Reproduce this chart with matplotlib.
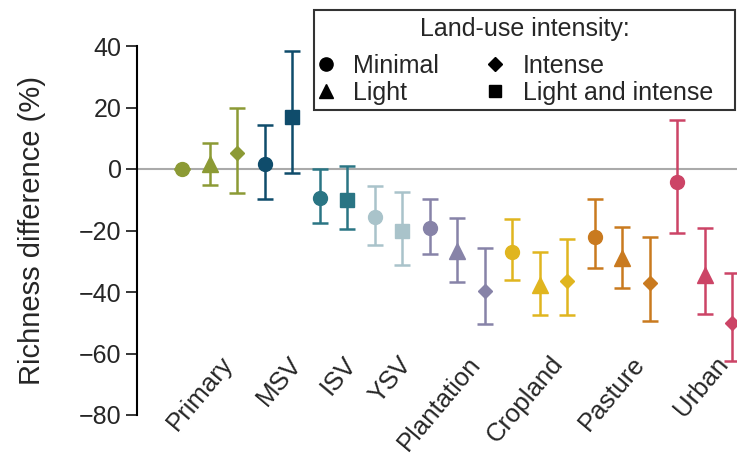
import numpy as np
import matplotlib
matplotlib.use('Agg')
import matplotlib.pyplot as plt
from matplotlib.lines import Line2D
from matplotlib.patches import Rectangle

plt.rcParams['font.family'] = ['Liberation Sans', 'DejaVu Sans']
plt.rcParams['text.color'] = '#262626'
plt.rcParams['axes.labelcolor'] = '#262626'
plt.rcParams['ytick.color'] = '#262626'

categories = ['Primary', 'MSV', 'ISV', 'YSV', 'Plantation', 'Cropland', 'Pasture', 'Urban']
colors = ['#8c9a35', '#0f4c6b', '#2a7584', '#a9c3ca', '#8783a8', '#e0b51f', '#c97a1f', '#cc4466']

land_use = ['Primary', 'Primary', 'Primary', 'MSV', 'MSV', 'ISV', 'ISV', 'YSV', 'YSV',
            'Plantation', 'Plantation', 'Plantation', 'Cropland', 'Cropland', 'Cropland',
            'Pasture', 'Pasture', 'Pasture', 'Urban', 'Urban', 'Urban']
intensity = ['Minimal', 'Light', 'Intense', 'Minimal', 'Light and intense',
             'Minimal', 'Light and intense', 'Minimal', 'Light and intense',
             'Minimal', 'Light', 'Intense', 'Minimal', 'Light', 'Intense',
             'Minimal', 'Light', 'Intense', 'Minimal', 'Light', 'Intense']
mean = [0, 1.5, 5.3, 1.5, 16.8, -9.3, -10.1, -15.7, -20.2, -19.1, -26.6, -39.6,
        -27.1, -37.7, -36.3, -22.0, -29.0, -37.2, -4.1, -34.5, -50.2]
lower = [0, -5.3, -7.7, -9.9, -1.2, -17.7, -19.6, -24.7, -31.2, -27.6, -36.6, -50.5,
         -36.1, -47.6, -47.5, -32.2, -38.7, -49.3, -20.7, -47.3, -62.4]
upper = [0, 8.6, 19.9, 14.4, 38.5, 0.0, 1.0, -5.5, -7.4, -9.9, -15.8, -25.8,
         -16.4, -26.9, -22.7, -9.9, -19.0, -22.2, 15.9, -19.1, -33.9]

markers = {'Minimal': 'o', 'Light': '^', 'Intense': 'D', 'Light and intense': 's'}
msizes = {'Minimal': 10, 'Light': 11, 'Intense': 7.5, 'Light and intense': 9.5}

fig = plt.figure(figsize=(7.37, 4.59), dpi=100)
ax = fig.add_axes([137 / 737, 1 - 415 / 459, 600 / 737, 369 / 459])

ax.axhline(0, color='#aaaaaa', lw=1.5, zorder=0)

xs = np.arange(len(mean))
for i in xs:
    c = colors[categories.index(land_use[i])]
    m = intensity[i]
    yerr = [[mean[i] - lower[i]], [upper[i] - mean[i]]]
    ax.errorbar(xs[i], mean[i], yerr=yerr, fmt=markers[m], ms=msizes[m],
                color=c, ecolor=c, elinewidth=1.8, capsize=5.5, capthick=1.8,
                clip_on=False, zorder=3)

# category labels, rotated under each group
for cat in categories:
    idx = [i for i in xs if land_use[i] == cat]
    xc = np.mean(idx) + 0.35
    ax.text(xc, -59.5, cat, rotation=50, ha='right', va='top',
            rotation_mode='anchor', fontsize=18.5)

ax.set_xlim(-1.64, 20.18)
ax.set_ylim(-80, 40)
ax.set_yticks(np.arange(-80, 41, 20))
ax.set_yticklabels([f'\u2212{abs(v)}' if v < 0 else str(v) for v in range(-80, 41, 20)])
ax.tick_params(axis='y', labelsize=18, length=8, width=1.3, direction='out', pad=3)
ax.set_xticks([])
for s in ['top', 'right', 'bottom']:
    ax.spines[s].set_visible(False)
ax.spines['left'].set_linewidth(1.5)
ax.set_ylabel('Richness difference (%)', fontsize=21, labelpad=24)

# legend box drawn separately so it can be wider than its contents
box_l, box_t, box_w, box_h = 314 / 737, 1 - 10 / 459, 421 / 737, 100 / 459
fig.patches.append(Rectangle((box_l, box_t - box_h), box_w, box_h,
                             transform=fig.transFigure, facecolor='white',
                             edgecolor='#333333', lw=1.5, zorder=5))
fig.text(box_l + box_w / 2, 1 - 29 / 459, 'Land-use intensity:', ha='center',
         va='center', fontsize=18, zorder=6)
handles = [Line2D([], [], ls='none', marker=markers[k], ms=msizes[k] * 0.95, color='black')
           for k in ['Minimal', 'Light', 'Intense', 'Light and intense']]
leg = fig.legend(handles, ['Minimal', 'Light', 'Intense', 'Light and intense'],
                 ncol=2, loc='upper left',
                 bbox_to_anchor=(317 / 737, 1 - 54 / 459), fontsize=18,
                 frameon=False, handlelength=0.7, handletextpad=0.75,
                 columnspacing=1.9, labelspacing=0.12, borderpad=0.0,
                 borderaxespad=0)
leg.set_zorder(6)

fig.savefig('out.png', dpi=100)
